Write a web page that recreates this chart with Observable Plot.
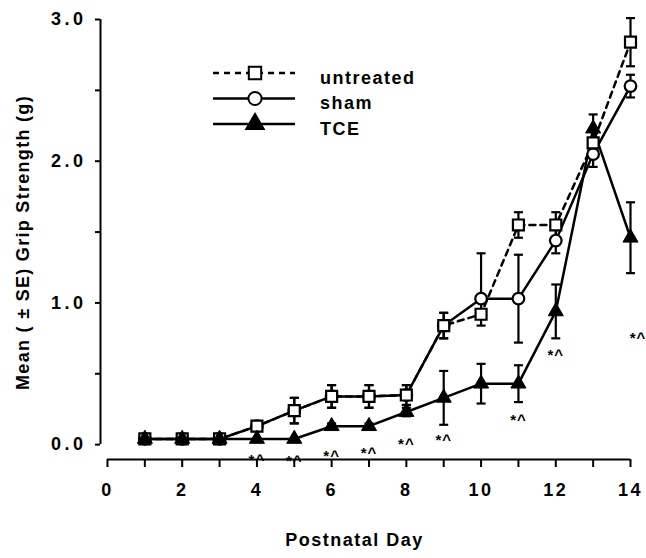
<!DOCTYPE html>
<html><head><meta charset="utf-8">
<script src="https://cdn.jsdelivr.net/npm/d3@7"></script>
<script src="https://cdn.jsdelivr.net/npm/@observablehq/plot@0.6"></script>
<style>
body{margin:0;background:#fff;}
#chart{position:relative;width:646px;height:558px;}
#chart svg{font-family:"Liberation Sans",Arial,Helvetica,sans-serif;}
</style></head><body><div id="chart"></div>
<script>
const days = [1,2,3,4,5,6,7,8,9,10,11,12,13,14];
const untreatedMean = [0.04,0.04,0.04,0.13,0.24,0.34,0.34,0.35,0.84,0.92,1.55,1.55,2.13,2.84];
const untreatedSE   = [0,0,0,0.03,0.09,0.08,0.08,0.07,0.09,0.08,0.09,0.09,0.08,0.17];
const shamMean   = [0.04,0.04,0.04,0.13,0.24,0.34,0.34,0.35,0.84,1.03,1.03,1.44,2.05,2.53];
const shamSEUp   = [0,0,0,0.03,0.09,0.08,0.08,0.07,0.09,0.32,0.31,0.09,0.09,0.08];
const shamSEDown = [0,0,0,0.03,0.09,0.08,0.08,0.07,0.09,0.10,0.31,0.09,0.09,0.08];
const tceMean = [0.04,0.04,0.04,0.04,0.04,0.13,0.13,0.23,0.33,0.43,0.43,0.94,2.23,1.46];
const tceSE   = [0,0,0,0,0,0.02,0.02,0.03,0.19,0.14,0.13,0.19,0.10,0.25];
const seriesNames = ["untreated","sham","TCE"];
const xTicks = [0,1,2,3,4,5,6,7,8,9,10,11,12,13,14];
const yTicks = [0,0.5,1,1.5,2,2.5,3];
const annDays = [4,5,6,7,8,9,11,12,14.2];
const annY    = [-0.08,-0.09,-0.05,-0.03,0.03,0.06,0.20,0.66,0.78];
const annLabel = "*^";
const xLabel = "Postnatal Day";
const yLabel = "Mean ( \u00b1 SE) Grip Strength (g)";

function rows(name, mean, up, down) {
  return days.map((d, i) => ({series: name, day: d, value: mean[i], hi: mean[i] + up[i], lo: mean[i] - down[i], has: up[i] + down[i] > 0}));
}
const untreated = rows(seriesNames[0], untreatedMean, untreatedSE, untreatedSE);
const sham = rows(seriesNames[1], shamMean, shamSEUp, shamSEDown);
const tce = rows(seriesNames[2], tceMean, tceSE, tceSE);
const ann = annDays.map((d, i) => ({day: d, y: annY[i]}));

const xMin = -0.187, yMin = -0.105;
const cap = {draw(ctx) { ctx.moveTo(-4.5, 0); ctx.lineTo(4.5, 0); }};
const sw = 2.5;

function errMarks(data) {
  const e = data.filter(d => d.has);
  return [
    Plot.ruleX(e, {x: "day", y1: "lo", y2: "hi", stroke: "black", strokeWidth: 2.2}),
    Plot.dot(e, {x: "day", y: "hi", symbol: cap, r: 3, stroke: "black", fill: "none", strokeWidth: 2.2}),
    Plot.dot(e, {x: "day", y: "lo", symbol: cap, r: 3, stroke: "black", fill: "none", strokeWidth: 2.2})
  ];
}

const plot = Plot.plot({
  width: 646, height: 558,
  marginLeft: 100, marginRight: 16, marginTop: 19, marginBottom: 99,
  x: {domain: [xMin, 14]},
  y: {domain: [yMin, 3]},
  style: {fontFamily: "'Liberation Sans', Arial, sans-serif", fontWeight: "bold", color: "black", background: "white"},
  marks: [
    Plot.ruleX([xMin], {y1: 0, y2: 3, stroke: "black", strokeWidth: 2}),
    Plot.ruleY([yMin], {x1: 0, x2: 14, stroke: "black", strokeWidth: 2}),
    Plot.axisY({ticks: yTicks, tickFormat: d => (d % 1 === 0 ? d.toFixed(1) : ""), tickSize: 5, tickPadding: 9, strokeWidth: 2, fontSize: 18, label: null}),
    Plot.axisX({ticks: xTicks, tickFormat: d => (d % 2 === 0 ? String(d) : ""), tickSize: 8, tickPadding: 16, strokeWidth: 2, fontSize: 18, label: null}),
    Plot.text([yLabel], {frameAnchor: "left", textAnchor: "middle", rotate: -90, dx: -77, dy: 3, fontSize: 18, fontWeight: "bold"}),
    Plot.text([xLabel], {frameAnchor: "bottom", textAnchor: "middle", dy: 86, dx: -11, fontSize: 18, fontWeight: "bold"}),
    ...errMarks(tce), ...errMarks(sham), ...errMarks(untreated),
    Plot.line(tce, {x: "day", y: "value", stroke: "black", strokeWidth: sw}),
    Plot.line(sham, {x: "day", y: "value", stroke: "black", strokeWidth: sw}),
    Plot.line(untreated, {x: "day", y: "value", stroke: "black", strokeWidth: sw, strokeDasharray: "6,5"}),
    Plot.dot(sham, {x: "day", y: "value", symbol: "circle", r: 5.8, fill: "white", stroke: "black", strokeWidth: 2.2}),
    Plot.dot(untreated, {x: "day", y: "value", symbol: "square", r: 6.2, fill: "white", stroke: "black", strokeWidth: 2.2}),
    Plot.dot(tce, {x: "day", y: "value", symbol: "triangle", r: 5.6, fill: "black", stroke: "black", strokeWidth: 1}),
    Plot.text(ann, {x: "day", y: "y", text: () => annLabel, fontSize: 15, fontWeight: "bold", dy: 4})
  ]
});

const svg = d3.select(plot);
svg.selectAll("[aria-label='y-axis tick label'] text").style("letter-spacing", "3.5px");
svg.selectAll("[aria-label='x-axis tick label'] text").style("letter-spacing", "2.5px");
svg.selectAll("text").filter(function(){ return this.textContent === xLabel; }).style("letter-spacing", "1.5px");
svg.selectAll("text").filter(function(){ return this.textContent === yLabel; }).style("letter-spacing", "1.3px");
svg.selectAll("text").filter(function(){ return this.textContent === annLabel; }).style("letter-spacing", "1px");

// legend
const legend = svg.append("g").attr("aria-label", "legend");
const legendItems = [
  {name: seriesNames[0], sym: d3.symbolSquare, r: 7, fill: "white", dash: "6,5"},
  {name: seriesNames[1], sym: d3.symbolCircle, r: 6.6, fill: "white", dash: null},
  {name: seriesNames[2], sym: d3.symbolTriangle, r: 6.5, fill: "black", dash: null}
];
legendItems.forEach((it, i) => {
  const y = 73 + i * 25.5;
  legend.append("line").attr("x1", 213).attr("x2", 295).attr("y1", y).attr("y2", y)
    .attr("stroke", "black").attr("stroke-width", sw).attr("stroke-dasharray", it.dash);
  legend.append("path").attr("transform", `translate(255,${y})`)
    .attr("d", d3.symbol(it.sym, Math.PI * it.r * it.r)())
    .attr("fill", it.fill).attr("stroke", "black").attr("stroke-width", 2);
  legend.append("text").attr("x", 320).attr("y", y + 10.5).text(it.name)
    .attr("text-anchor", "start")
    .attr("font-size", 18).attr("font-weight", "bold").style("letter-spacing", "1.5px").attr("fill", "black");
});

document.getElementById("chart").appendChild(plot);
</script>
</body></html>
